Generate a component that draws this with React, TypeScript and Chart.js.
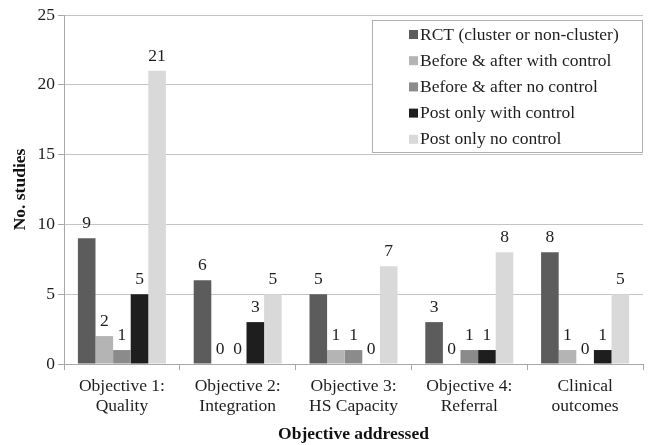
import React, { useEffect, useRef } from "react";
import { Chart, registerables } from "chart.js";

Chart.register(...registerables);

const categories: string[][] = [
  ["Objective 1:", "Quality"],
  ["Objective 2:", "Integration"],
  ["Objective 3:", "HS Capacity"],
  ["Objective 4:", "Referral"],
  ["Clinical", "outcomes"],
];

const seriesLabels = [
  "RCT (cluster or non-cluster)",
  "Before & after with control",
  "Before & after no control",
  "Post only with control",
  "Post only no control",
];

const rct = [9, 6, 5, 3, 8];
const beforeAfterWithControl = [2, 0, 1, 0, 1];
const beforeAfterNoControl = [1, 0, 1, 1, 0];
const postOnlyWithControl = [5, 3, 0, 1, 1];
const postOnlyNoControl = [21, 5, 7, 8, 5];

const yTicks = [0, 5, 10, 15, 20, 25];

const seriesColors = ["#5c5c5c", "#b4b4b4", "#8b8b8b", "#1e1e1e", "#d9d9d9"];

const FONT = "'Liberation Serif', 'Times New Roman', serif";
const TEXT = "#1e1e1e";

const valueLabels = {
  id: "valueLabels",
  afterDatasetsDraw(chart: any) {
    const ctx = chart.ctx;
    ctx.save();
    ctx.font = `17.5px ${FONT}`;
    ctx.fillStyle = TEXT;
    ctx.textAlign = "center";
    ctx.textBaseline = "alphabetic";
    chart.data.datasets.forEach((ds: any, i: number) => {
      const meta = chart.getDatasetMeta(i);
      meta.data.forEach((el: any, j: number) => {
        ctx.fillText(String(ds.data[j]), el.x, el.y - 10);
      });
    });
    ctx.restore();
  },
};

const boxLegend = {
  id: "boxLegend",
  afterDraw(chart: any) {
    const ctx = chart.ctx;
    const area = chart.chartArea;
    const w = 271;
    const h = 133;
    const x0 = area.right - w;
    const y0 = area.top + 5;
    ctx.save();
    ctx.fillStyle = "#ffffff";
    ctx.fillRect(x0, y0, w, h);
    ctx.strokeStyle = "#b0b0b0";
    ctx.lineWidth = 1;
    ctx.strokeRect(x0 + 0.5, y0 + 0.5, w - 1, h - 1);
    ctx.font = `17.5px ${FONT}`;
    ctx.textBaseline = "middle";
    ctx.textAlign = "left";
    chart.data.datasets.forEach((ds: any, i: number) => {
      const cy = y0 + 14 + i * 26.2;
      ctx.fillStyle = ds.backgroundColor;
      ctx.fillRect(x0 + 37, cy - 4, 9, 9);
      ctx.fillStyle = TEXT;
      ctx.fillText(ds.label, x0 + 48, cy + 1);
    });
    ctx.restore();
  },
};

export default function App() {
  const ref = useRef<HTMLCanvasElement | null>(null);

  useEffect(() => {
    if (!ref.current) return;
    const seriesData = [
      rct,
      beforeAfterWithControl,
      beforeAfterNoControl,
      postOnlyWithControl,
      postOnlyNoControl,
    ];
    const chart = new Chart(ref.current, {
      type: "bar",
      data: {
        labels: categories,
        datasets: seriesData.map((d, i) => ({
          label: seriesLabels[i],
          data: d,
          backgroundColor: seriesColors[i],
          borderWidth: 0,
          categoryPercentage: 0.76,
          barPercentage: 1,
        })),
      },
      options: {
        responsive: false,
        animation: false,
        layout: { padding: { top: 15, right: 7, left: 0, bottom: 0 } },
        plugins: {
          legend: { display: false },
          tooltip: { enabled: false },
        },
        scales: {
          x: {
            afterFit: (s: any) => {
              s.height = 81;
            },
            grid: {
              drawOnChartArea: false,
              drawTicks: true,
              tickLength: 6,
              color: "#a8a8a8",
              tickColor: "#a8a8a8",
            },
            border: { color: "#a8a8a8" },
            ticks: {
              color: TEXT,
              font: { family: FONT, size: 17.5, lineHeight: 1.15 },
              padding: 6,
              maxRotation: 0,
              autoSkip: false,
            },
            title: {
              display: true,
              text: "Objective addressed",
              color: "#111111",
              font: { family: FONT, size: 17.5, weight: "bold", lineHeight: 1.2 },
              padding: { top: 0, bottom: 0 },
            },
          },
          y: {
            min: 0,
            max: 25,
            afterFit: (s: any) => {
              s.width = 64;
            },
            afterBuildTicks: (s: any) => {
              s.ticks = yTicks.map((v) => ({ value: v }));
            },
            grid: {
              color: "#c4c4c4",
              tickColor: "#a8a8a8",
              tickLength: 6,
            },
            border: { color: "#a8a8a8" },
            ticks: {
              color: TEXT,
              font: { family: FONT, size: 17.5 },
              padding: 3,
            },
            title: {
              display: true,
              text: "No. studies",
              color: "#111111",
              font: { family: FONT, size: 17.5, weight: "bold", lineHeight: 1.2 },
              padding: { top: 10, bottom: 0 },
            },
          },
        },
      },
      plugins: [valueLabels, boxLegend],
    });
    return () => chart.destroy();
  }, []);

  return (
    <div style={{ position: "absolute", left: 0, top: 0, width: 650, height: 445 }}>
      <canvas ref={ref} width={650} height={445} />
    </div>
  );
}
